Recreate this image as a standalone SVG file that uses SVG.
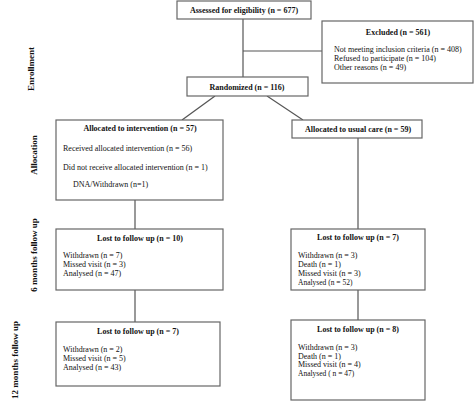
<svg xmlns="http://www.w3.org/2000/svg" width="474" height="407" viewBox="0 0 474 407">
<style>
.box{fill:#fff;stroke:#666;stroke-width:1.2}
.ln{stroke:#555;stroke-width:1.2;fill:none}
text{font-family:"Liberation Serif","Times New Roman",serif;fill:#111}
.t{font-size:8px;font-weight:bold;text-anchor:middle}
.b{font-size:8px}
.s{font-size:7.5px}
.side{font-size:9px;font-weight:bold;text-anchor:middle}
</style>
<rect width="474" height="407" fill="#fff"/>
<g id="connectors">
<line class="ln" x1="243" y1="19" x2="243" y2="77"/>
<line class="ln" x1="243" y1="51" x2="322" y2="51"/>
<line class="ln" x1="215" y1="96" x2="182" y2="120"/>
<line class="ln" x1="267" y1="96" x2="303" y2="120"/>
<line class="ln" x1="135" y1="200" x2="135" y2="229"/>
<line class="ln" x1="135" y1="290" x2="135" y2="322"/>
<line class="ln" x1="358" y1="138" x2="358" y2="229"/>
<line class="ln" x1="358" y1="290" x2="358" y2="320"/>
</g>
<g id="side-labels">
<text class="side" transform="translate(34,69) rotate(-90)">Enrollment</text>
<text class="side" transform="translate(37,155) rotate(-90)">Allocation</text>
<text class="side" transform="translate(37,255) rotate(-90)">6 months follow up</text>
<text class="side" transform="translate(18,360) rotate(-90)">12 months follow up</text>
</g>
<g id="assessed">
<rect class="box" x="177" y="1" width="134" height="18"/>
<text class="t" x="244" y="13">Assessed for eligibility (n = 677)</text>
</g>
<g id="excluded">
<rect class="box" x="322" y="21" width="151" height="62"/>
<text class="t" x="398" y="35">Excluded (n = 561)</text>
<text class="b" x="334" y="52">Not meeting inclusion criteria (n = 408)</text>
<text class="b" x="334" y="61">Refused to participate (n = 104)</text>
<text class="b" x="334" y="70">Other reasons (n = 49)</text>
</g>
<g id="randomized">
<rect class="box" x="187" y="77" width="121" height="19"/>
<text class="t" x="247" y="90">Randomized (n = 116)</text>
</g>
<g id="intervention">
<rect class="box" x="56" y="120" width="167" height="80"/>
<text class="t" x="140" y="131">Allocated to intervention (n = 57)</text>
<text class="b" x="63" y="151">Received allocated intervention (n = 56)</text>
<text class="b" x="63" y="170">Did not receive allocated intervention (n = 1)</text>
<text class="b" x="73" y="187">DNA/Withdrawn (n=1)</text>
</g>
<g id="usualcare">
<rect class="box" x="292" y="120" width="130" height="18"/>
<text class="t" x="358" y="132">Allocated to usual care (n = 59)</text>
</g>
<g id="int6">
<rect class="box" x="56" y="229" width="167" height="61"/>
<text class="t" x="140" y="241">Lost to follow up (n = 10)</text>
<text class="b" x="63" y="258">Withdrawn (n = 7)</text>
<text class="b" x="63" y="267">Missed visit (n = 3)</text>
<text class="b" x="63" y="276">Analysed (n = 47)</text>
</g>
<g id="uc6">
<rect class="box" x="291" y="229" width="134" height="61"/>
<text class="t" x="358" y="240">Lost to follow up (n = 7)</text>
<text class="b" x="298" y="258">Withdrawn (n = 3)</text>
<text class="b" x="298" y="267">Death (n = 1)</text>
<text class="b" x="298" y="276">Missed visit (n = 3)</text>
<text class="s" x="298" y="285">Analysed (n = 52)</text>
</g>
<g id="int12">
<rect class="box" x="56" y="322" width="164" height="64"/>
<text class="t" x="138" y="334">Lost to follow up (n = 7)</text>
<text class="b" x="63" y="352">Withdrawn (n = 2)</text>
<text class="b" x="63" y="361">Missed visit (n = 5)</text>
<text class="b" x="63" y="370">Analysed (n = 43)</text>
</g>
<g id="uc12">
<rect class="box" x="291" y="320" width="134" height="80"/>
<text class="t" x="358" y="332">Lost to follow up (n = 8)</text>
<text class="b" x="298" y="350">Withdrawn (n = 3)</text>
<text class="b" x="298" y="358.5">Death (n = 1)</text>
<text class="b" x="298" y="367">Missed visit (n = 4)</text>
<text class="s" x="298" y="376">Analysed ( n = 47)</text>
</g>
</svg>
